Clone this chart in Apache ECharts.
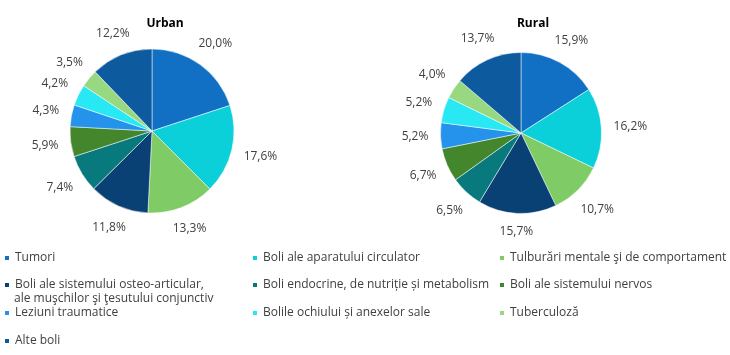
<!DOCTYPE html>
<html>
<head>
<meta charset="utf-8">
<script src="https://cdn.jsdelivr.net/npm/echarts@6/dist/echarts.min.js"></script>
<style>html,body{margin:0;padding:0;background:#fff}#c{width:730px;height:355px}</style>
</head>
<body>
<div id="c"></div>
<script>
const categories = [
  'Tumori',
  'Boli ale aparatului circulator',
  'Tulburări mentale şi de comportament',
  'Boli ale sistemului osteo-articular,\nale muşchilor şi ţesutului conjunctiv',
  'Boli endocrine, de nutriție și metabolism',
  'Boli ale sistemului nervos',
  'Leziuni traumatice',
  'Bolile ochiului și anexelor sale',
  'Tuberculoză',
  'Alte boli'
];
const urbanValues = [20.0, 17.6, 13.3, 11.8, 7.4, 5.9, 4.3, 4.2, 3.5, 12.2];
const ruralValues = [15.9, 16.2, 10.7, 15.7, 6.5, 6.7, 5.2, 5.2, 4.0, 13.7];
const pieTitles = ['Urban', 'Rural'];
const colors = ['#1170C4', '#0BD0D9', '#7FCB65', '#0A4174', '#087A7E', '#43862C', '#2592EB', '#27E8F3', '#98D880', '#0E5A9E'];

const FONT = '"Open Sans", sans-serif';
const chart = echarts.init(document.getElementById('c'), null, {renderer: 'canvas'});

const colLeft = [3, 251, 498];
const rowTop = [250, 277, 305, 333];
const pieCenters = [[152, 131], [521, 133]];
const pieRadii = [82, 80.5];

const legends = categories.map((name, i) => ({
  left: colLeft[i % 3],
  top: rowTop[Math.floor(i / 3)],
  orient: 'horizontal',
  icon: 'rect',
  itemWidth: 6,
  itemHeight: 6,
  itemGap: 0,
  padding: 0,
  data: [name],
  formatter: n => n.split('\n')[0],
  textStyle: {color: '#404040', fontSize: 12, fontFamily: FONT, lineHeight: 16}
}));

// continuation lines of wrapped legend entries
const extraLines = categories
  .map((name, i) => ({i, parts: name.split('\n')}))
  .filter(o => o.parts.length > 1)
  .map(o => ({
    type: 'text',
    left: colLeft[o.i % 3] + 11,
    top: rowTop[Math.floor(o.i / 3)] + 16,
    style: {text: o.parts.slice(1).join('\n'), fill: '#404040', font: '12px ' + FONT}
  }));

function makePie(values, idx) {
  const c = pieCenters[idx];
  return {
    type: 'pie',
    center: c,
    radius: pieRadii[idx],
    startAngle: 90,
    clockwise: true,
    avoidLabelOverlap: false,
    itemStyle: {borderColor: '#ffffff', borderWidth: 0.5},
    label: {
      show: true,
      position: 'outside',
      distanceToLabelLine: 0,
      color: '#404040',
      fontSize: 12,
      fontFamily: FONT,
      formatter: p => p.value.toFixed(1).replace('.', ',') + '%'
    },
    labelLine: {show: false, length: 12, length2: 0},
    labelLayout: p => {
      const r = p.labelRect;
      const ax = p.align === 'right' ? r.x + r.width : r.x;
      const ay = r.y + r.height / 2;
      let dx = ax - c[0], dy = ay - c[1];
      const len = Math.hypot(dx, dy) || 1;
      dx /= len; dy /= len;
      const push = Math.abs(dx) * r.width / 2 + Math.abs(dy) * (r.height - 2) / 2;
      return {x: ax + dx * push, y: ay + dy * push, align: 'center', verticalAlign: 'middle'};
    },
    emphasis: {disabled: true},
    data: categories.map((n, i) => ({name: n, value: values[i], itemStyle: {color: colors[i]}}))
  };
}

chart.setOption({
  animation: false,
  color: colors,
  title: [
    {text: pieTitles[0], left: 160, top: 13, textAlign: 'center', textStyle: {fontSize: 12, fontWeight: 'bold', color: '#000', fontFamily: FONT}},
    {text: pieTitles[1], left: 528, top: 13, textAlign: 'center', textStyle: {fontSize: 12, fontWeight: 'bold', color: '#000', fontFamily: FONT}}
  ],
  legend: legends,
  graphic: extraLines,
  series: [
    makePie(urbanValues, 0),
    makePie(ruralValues, 1)
  ]
});
</script>
</body>
</html>
